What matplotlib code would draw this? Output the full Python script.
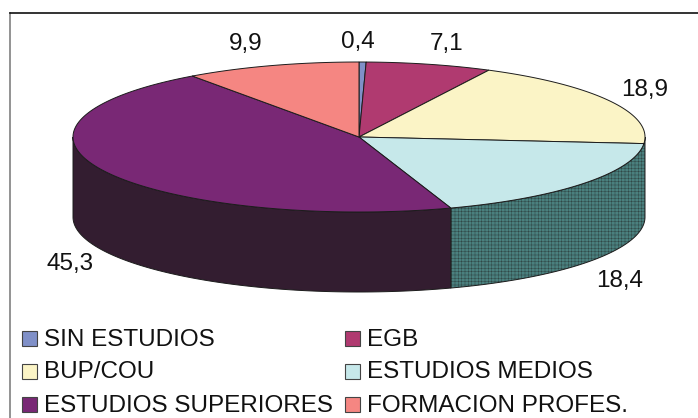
import numpy as np
import matplotlib
matplotlib.use("Agg")
import matplotlib.pyplot as plt
from matplotlib.patches import Rectangle

categories = ["SIN ESTUDIOS", "EGB", "BUP/COU", "ESTUDIOS MEDIOS",
              "ESTUDIOS SUPERIORES", "FORMACION PROFES."]
values = [0.4, 7.1, 18.9, 18.4, 45.3, 9.9]
value_labels = ["0,4", "7,1", "18,9", "18,4", "45,3", "9,9"]
top_colors = ["#8090C8", "#B03A70", "#FBF4C6", "#C6E8EA", "#792875", "#F58682"]
side_colors = {3: "#4A807E", 4: "#331D30"}

W, H = 698, 418
CX, CY, RX, RY, DEPTH = 359, 137, 286, 75, 80
label_xy = [(358, 42), (447, 44), (645, 90), (620, 281), (70, 264), (246, 44)]
legend_xy = [(22, 338), (345, 338), (22, 371), (345, 371), (22, 404), (345, 404)]

plt.rcParams['font.family'] = ['Liberation Sans', 'DejaVu Sans']
plt.rcParams['hatch.linewidth'] = 0.2
plt.rcParams['hatch.color'] = "#6E8886"
fig = plt.figure(figsize=(W / 100, H / 100), dpi=100)
ax = fig.add_axes([0, 0, 1, 1])
ax.set_xlim(0, W)
ax.set_ylim(H, 0)
ax.axis("off")

ax.plot([10, 10], [13, H], color="#808080", lw=1.2)
ax.plot([10, W], [13, 13], color="#111111", lw=1.2)

def rim(a0, a1, dy=0):
    t = np.radians(np.linspace(a0, a1, 200))
    return CX + RX * np.sin(t), CY + dy - RY * np.cos(t)

edges = np.cumsum([0] + values) / sum(values) * 360

# side walls, visible between the right (90 deg) and the left (270 deg) extreme
for i, (a0, a1) in ((3, (90, edges[4])), (4, (edges[4], 270))):
    x0, y0 = rim(a0, a1)
    x1, y1 = rim(a0, a1, DEPTH)
    ax.fill(np.r_[x0, x1[::-1]], np.r_[y0, y1[::-1]], facecolor=side_colors[i],
            edgecolor="#1c1c1c", lw=0.7, zorder=2,
            hatch="+++++" if i == 3 else None)

for i in range(len(values)):
    x, y = rim(edges[i], edges[i + 1])
    ax.fill(np.r_[CX, x], np.r_[CY, y], facecolor=top_colors[i],
            edgecolor="#1c1c1c", lw=0.7, zorder=3)

for s, (x, y) in zip(value_labels, label_xy):
    ax.text(x, y, s, fontsize=17.5, ha="center", va="center", color="#111111", zorder=5)

for c, name, (x, y) in zip(top_colors, categories, legend_xy):
    ax.add_patch(Rectangle((x, y - 7), 15, 15, facecolor=c, edgecolor="#444444", lw=0.8, zorder=5))
    ax.text(x + 22, y + 1.5, name, fontsize=17.5, ha="left", va="center", color="#111111", zorder=5)

fig.savefig("out.png", dpi=100)
